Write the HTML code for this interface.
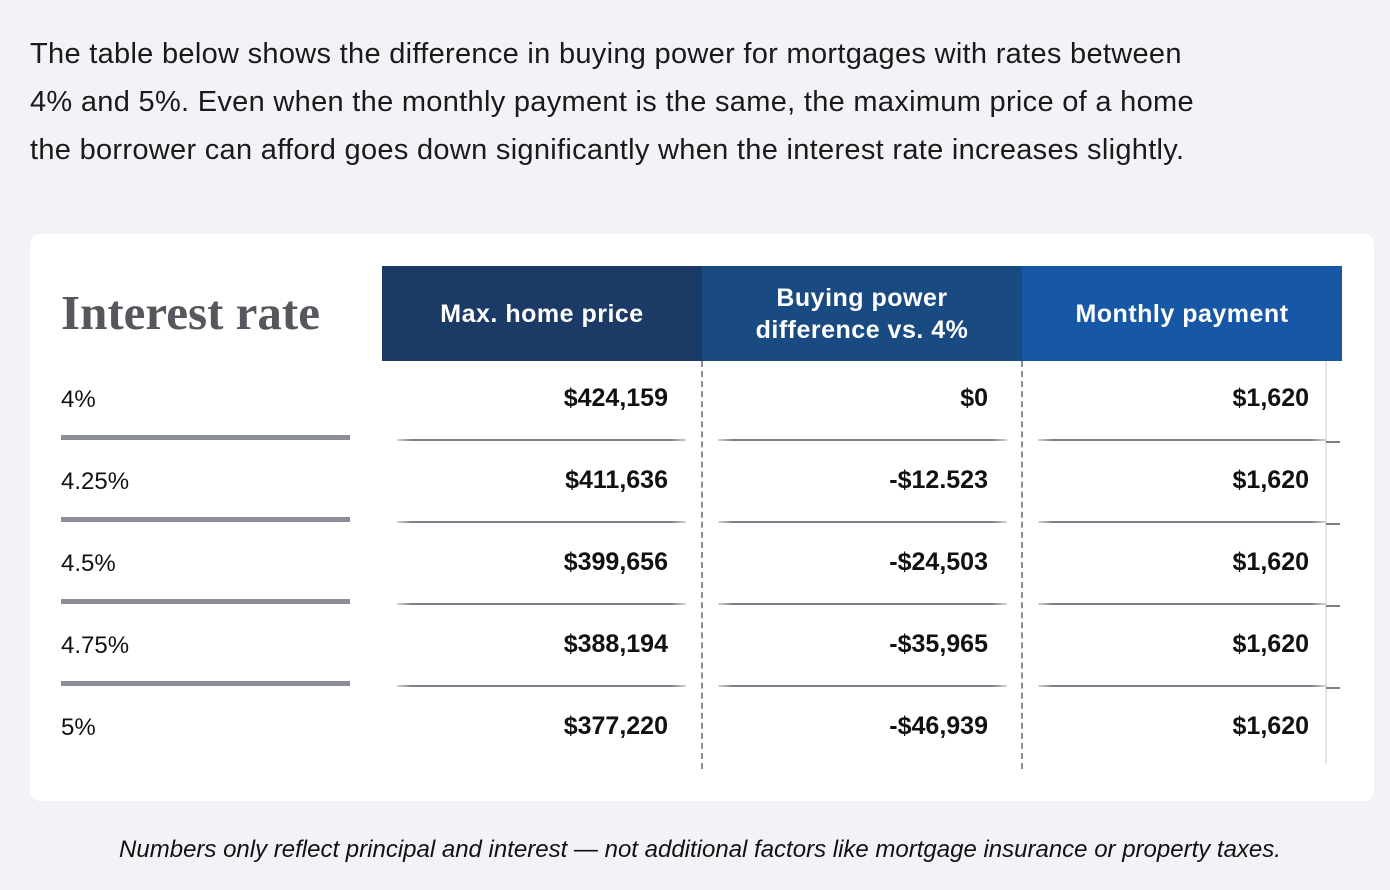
<!DOCTYPE html>
<html><head><meta charset="utf-8"><style>
body{margin:0;width:1390px;height:890px;background:#f2f3f7;font-family:"Liberation Sans",sans-serif;position:relative;overflow:hidden;color:#111}
.a{position:absolute}
.intro{left:30px;top:30px;font-size:29px;line-height:48px;color:#1a1a1a;letter-spacing:0.3px;white-space:nowrap}
.card{left:30px;top:234px;width:1344px;height:567px;background:#fff;border-radius:10px}
.title{left:61px;top:284px;font-family:"Liberation Serif",serif;font-weight:bold;font-size:49px;color:#55575c}
.hd{top:266px;height:95px;width:320px;color:#fff;font-weight:bold;font-size:25px;display:flex;align-items:center;justify-content:center;text-align:center;line-height:32px;letter-spacing:0.5px}
.lbl{left:61px;font-size:24px;color:#111}
.val{font-size:25px;font-weight:bold;text-align:right;width:280px}
.ll{left:61px;width:289px;height:5px;background:#8a8d95}
.rl{height:2px;background:linear-gradient(90deg,rgba(120,124,132,0.3),#7c8088 5%,#7c8088 95%,rgba(120,124,132,0.3))}
.dash{top:361px;height:408px;width:0;border-left:2px dashed #8a8d95}
.foot{left:0;width:1400px;top:836px;text-align:center;font-style:italic;font-size:24px;color:#111}
</style></head><body>
<div class="a intro">The table below shows the difference in buying power for mortgages with rates between<br>4% and 5%. Even when the monthly payment is the same, the maximum price of a home<br>the borrower can afford goes down significantly when the interest rate increases slightly.</div>
<div class="a card"></div>
<div class="a title">Interest rate</div>
<div class="a hd" style="left:382px;background:#1b3a66">Max. home price</div>
<div class="a hd" style="left:702px;background:#1a4a82">Buying power<br>difference vs. 4%</div>
<div class="a hd" style="left:1022px;background:#1658a6;width:320px">Monthly payment</div>
<div class="a dash" style="left:701px"></div>
<div class="a dash" style="left:1021px"></div>
<div class="a" style="left:1325px;top:361px;width:2px;height:403px;background:#e6e7ea"></div>
<div id="rows"></div>
<div class="a foot">Numbers only reflect principal and interest — not additional factors like mortgage insurance or property taxes.</div>
<script>
const rates=["4%","4.25%","4.5%","4.75%","5%"];
const prices=["$424,159","$411,636","$399,656","$388,194","$377,220"];
const diffs=["$0","-$12.523","-$24,503","-$35,965","-$46,939"];
const payments=["$1,620","$1,620","$1,620","$1,620","$1,620"];
const root=document.getElementById('rows');
function mk(cls,style,text){const d=document.createElement('div');d.className='a '+cls;d.style.cssText=style;if(text!=null)d.textContent=text;root.appendChild(d);return d;}
rates.forEach((r,i)=>{
  const y=384+i*82;
  let e=mk('lbl','top:'+(y+2)+'px',r);
  
  
  e=mk('val','left:388px;top:'+y+'px',prices[i]);
  
  
  e=mk('val','left:708px;top:'+y+'px',diffs[i]);
  
  
  e=mk('val','left:1029px;top:'+y+'px',payments[i]);
  
  
  if(i<rates.length-1){
    const ly=435+i*82;
    e=mk('ll','top:'+ly+'px');
    
    
    [[397,289],[718,289],[1038,288]].forEach(s=>{
      e=mk('rl','left:'+s[0]+'px;width:'+s[1]+'px;top:'+(ly+4)+'px');
      
      
    });
    e=mk('','left:1326px;width:14px;height:2px;background:#7c8088;top:'+(ly+6)+'px');
    
    
  }
});
</script>
</body></html>
